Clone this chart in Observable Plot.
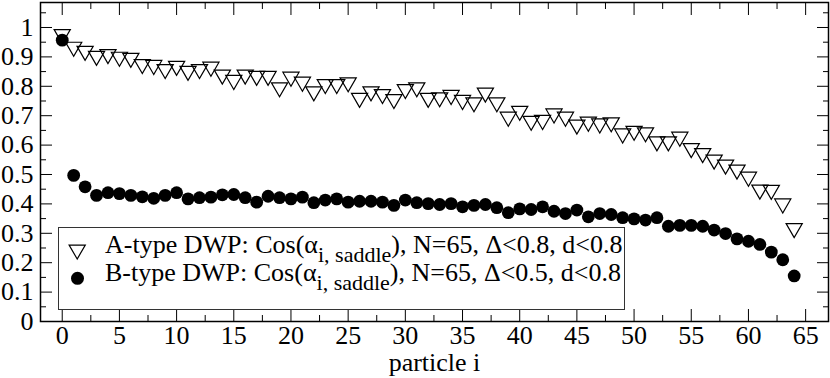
<!DOCTYPE html>
<html><head><meta charset="utf-8">
<script src="https://cdn.jsdelivr.net/npm/d3@7"></script>
<script src="https://cdn.jsdelivr.net/npm/@observablehq/plot@0.6"></script>
<style>
html,body{margin:0;padding:0;background:#fff;}
#chart svg{display:block;}
#chart svg text{font-family:"Liberation Serif","DejaVu Serif",serif;}
</style></head><body><div id="chart"></div>
<script>
const particle = [0,1,2,3,4,5,6,7,8,9,10,11,12,13,14,15,16,17,18,19,20,21,22,23,24,25,26,27,28,29,30,31,32,33,34,35,36,37,38,39,40,41,42,43,44,45,46,47,48,49,50,51,52,53,54,55,56,57,58,59,60,61,62,63,64];
const aType = [0.977,0.934,0.920,0.903,0.909,0.900,0.896,0.875,0.872,0.858,
0.869,0.852,0.858,0.866,0.839,0.821,0.839,0.835,0.835,0.796,
0.832,0.815,0.782,0.807,0.807,0.813,0.760,0.782,0.773,0.756,
0.790,0.796,0.760,0.762,0.770,0.753,0.745,0.778,0.745,0.696,
0.716,0.682,0.685,0.707,0.696,0.669,0.679,0.673,0.677,0.639,
0.648,0.643,0.612,0.612,0.628,0.589,0.572,0.550,0.533,0.516,
0.492,0.448,0.447,0.401,0.317];
const bType = [0.957,0.497,0.458,0.429,0.438,0.435,0.429,0.424,0.419,0.429,
0.438,0.417,0.421,0.423,0.431,0.432,0.421,0.406,0.426,0.421,
0.417,0.423,0.404,0.413,0.417,0.406,0.409,0.409,0.406,0.395,
0.413,0.404,0.401,0.398,0.401,0.390,0.395,0.398,0.387,0.370,
0.383,0.381,0.390,0.375,0.367,0.379,0.356,0.367,0.364,0.353,
0.349,0.345,0.353,0.324,0.327,0.327,0.324,0.311,0.299,0.281,
0.273,0.262,0.236,0.210,0.155];
const xTicks = [0,5,10,15,20,25,30,35,40,45,50,55,60,65];
const xMinorTicks = [2.5,7.5,12.5,17.5,22.5,27.5,32.5,37.5,42.5,47.5,52.5,57.5,62.5];
const yTicks = [0,0.1,0.2,0.3,0.4,0.5,0.6,0.7,0.8,0.9,1];
const yTickLabels = ["0","0.1","0.2","0.3","0.4","0.5","0.6","0.7","0.8","0.9","1"];
const yMinorTicks = [0.05,0.15,0.25,0.35,0.45,0.55,0.65,0.75,0.85,0.95,1.05];
const xLabel = "particle i";
const legendMain = ["A-type DWP: Cos(α", "B-type DWP: Cos(α"];
const legendSub = ["i, saddle", "i, saddle"];
const legendTail = ["), N=65, Δ<0.8, d<0.8", "), N=65, Δ<0.5, d<0.8"];

const serif = "Liberation Serif, DejaVu Serif, serif";
const rows = particle.map((p, i) => ({p, a: aType[i], b: bType[i]}));
const blank = () => "";
const yFmt = d => yTickLabels[yTicks.indexOf(d)];

const plot = Plot.plot({
  width: 830, height: 378,
  marginLeft: 40, marginRight: 2, marginTop: 2, marginBottom: 57,
  style: {fontFamily: serif, fontSize: "26px", background: "#fff", color: "#000", overflow: "visible"},
  x: {domain: [-1.9, 67]},
  y: {domain: [0, 1.085]},
  marks: [
    Plot.axisX(xTicks, {anchor: "bottom", tickSize: -12, tickPadding: 16, tickFormat: d => String(d), label: null, fontSize: 26}),
    Plot.axisX(xMinorTicks, {anchor: "bottom", tickSize: -6, tickFormat: blank, label: null}),
    Plot.axisX(xTicks, {anchor: "top", tickSize: -12, tickFormat: blank, label: null}),
    Plot.axisX(xMinorTicks, {anchor: "top", tickSize: -6, tickFormat: blank, label: null}),
    Plot.axisY(yTicks, {anchor: "left", tickSize: -12, tickPadding: 19, tickFormat: yFmt, label: null, fontSize: 26}),
    Plot.axisY(yMinorTicks, {anchor: "left", tickSize: -6, tickFormat: blank, label: null}),
    Plot.axisY(yTicks, {anchor: "right", tickSize: -12, tickFormat: blank, label: null}),
    Plot.axisY(yMinorTicks, {anchor: "right", tickSize: -6, tickFormat: blank, label: null}),
    Plot.dot(rows, {x: "p", y: "a", symbol: "triangle", rotate: 180, r: 6, stroke: "#000", fill: "none", strokeWidth: 1.2}),
    Plot.dot(rows, {x: "p", y: "b", symbol: "circle", r: 6.4, fill: "#000", stroke: "none"}),
    Plot.frame({stroke: "#000", strokeWidth: 1.5}),
    Plot.text([xLabel], {frameAnchor: "bottom", dy: 41, lineAnchor: "middle", text: d => d, fontSize: 26})
  ]
});
document.getElementById("chart").appendChild(plot);

// legend box inside the frame
const svg = d3.select(plot);
const lg = svg.append("g").attr("fill", "#000").attr("text-anchor", "start");
lg.append("rect").attr("x", 58.5).attr("y", 227.5).attr("width", 566).attr("height", 82)
  .attr("fill", "#fff").attr("stroke", "#333").attr("stroke-width", 1);
lg.append("path").attr("d", d3.symbol(d3.symbolTriangle, Math.PI * 36)())
  .attr("transform", "translate(77.2,249.7) rotate(180)")
  .attr("fill", "none").attr("stroke", "#000").attr("stroke-width", 1.2);
lg.append("circle").attr("cx", 77.5).attr("cy", 278.3).attr("r", 6.5).attr("fill", "#000");
const baselines = [252.7, 280.7];
baselines.forEach((by, k) => {
  const t = lg.append("text").attr("x", 105).attr("y", by).attr("font-size", 26).attr("text-anchor", "start");
  t.append("tspan").text(legendMain[k]);
  t.append("tspan").attr("dy", 9).attr("font-size", 22).text(legendSub[k]);
  t.append("tspan").attr("dy", -9).text(legendTail[k]);
});
</script></body></html>
